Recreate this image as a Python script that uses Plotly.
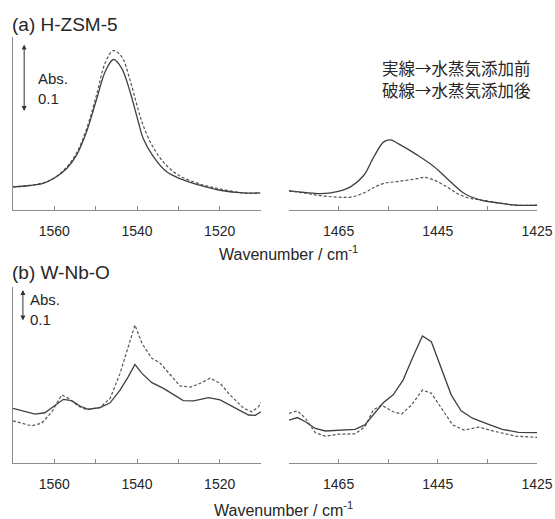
import plotly.graph_objects as go

W, H = 555, 519

# ---------------- data (absorbance, arbitrary offset) ----------------
# (a) H-ZSM-5, left window
a_left_wn = [1570, 1565.9, 1562.7, 1560, 1557, 1554.6, 1552.2, 1549.7, 1547.7, 1545.7,
             1543.7, 1541.7, 1539.7, 1538.5, 1536, 1532.8, 1529.6, 1524.7, 1519.9, 1514.2, 1510.2]
a_left_before = [0.034, 0.036, 0.039, 0.047, 0.061, 0.081, 0.115, 0.164, 0.203, 0.221,
                 0.208, 0.174, 0.130, 0.105, 0.078, 0.056, 0.046, 0.036, 0.029, 0.025, 0.025]
a_left_after = [0.034, 0.036, 0.040, 0.047, 0.063, 0.084, 0.119, 0.171, 0.216, 0.234,
                0.225, 0.191, 0.147, 0.124, 0.091, 0.065, 0.050, 0.038, 0.031, 0.025, 0.025]

# (a) H-ZSM-5, right window
a_right_wn_before = [1475, 1472, 1468.6, 1465.3, 1462.6, 1459.9, 1457.9, 1455.9, 1454.5, 1452.9,
                     1449.2, 1445.8, 1442.5, 1439.8, 1436.5, 1432.4, 1429.1, 1425]
a_right_before = [0.028, 0.026, 0.024, 0.027, 0.034, 0.051, 0.078, 0.100, 0.103, 0.097,
                  0.081, 0.064, 0.042, 0.025, 0.015, 0.010, 0.007, 0.007]
a_right_wn_after = [1475, 1472, 1468.6, 1465.3, 1462.6, 1459.9, 1457.9, 1455.9, 1452.9, 1449.2,
                    1447.8, 1445.8, 1443.2, 1440.5, 1437.8, 1436.5, 1432.4, 1429.1, 1425]
a_right_after = [0.028, 0.025, 0.021, 0.019, 0.019, 0.025, 0.033, 0.039, 0.042, 0.046,
                 0.048, 0.044, 0.034, 0.022, 0.016, 0.015, 0.010, 0.007, 0.007]

# (b) W-Nb-O, left window
b_left_wn_before = [1570, 1567.5, 1564.7, 1562.3, 1560.2, 1557.8, 1555.8, 1553.8, 1551.8, 1548.9,
                    1546.5, 1544.1, 1542.1, 1540.5, 1538.8, 1536.4, 1533.6, 1531.2, 1528.8, 1526.3,
                    1522.7, 1519.9, 1516.7, 1513, 1511.4, 1510]
b_left_before = [0.171, 0.163, 0.153, 0.157, 0.176, 0.199, 0.195, 0.178, 0.168, 0.173,
                 0.188, 0.228, 0.270, 0.308, 0.280, 0.251, 0.233, 0.213, 0.195, 0.194,
                 0.204, 0.197, 0.176, 0.150, 0.149, 0.160]
b_left_wn_after = [1570, 1567.5, 1565.5, 1563.1, 1560.6, 1558.2, 1556.6, 1554.2, 1552.2, 1548.9,
                   1546.5, 1544.1, 1542.1, 1540.5, 1538.8, 1536.4, 1534.4, 1532, 1529.6, 1527.1,
                   1524.7, 1522.3, 1519.9, 1517.5, 1514.2, 1512.2, 1510.6, 1510]
b_left_after = [0.132, 0.122, 0.116, 0.124, 0.160, 0.213, 0.202, 0.178, 0.166, 0.174,
                0.202, 0.280, 0.363, 0.431, 0.374, 0.327, 0.312, 0.275, 0.241, 0.237,
                0.249, 0.265, 0.249, 0.213, 0.171, 0.160, 0.176, 0.190]

# (b) W-Nb-O, right window
b_right_wn_before = [1475, 1473.3, 1471.7, 1469.7, 1467.7, 1465, 1461.7, 1459.7, 1458, 1456,
                     1454, 1452, 1450, 1448.1, 1446.3, 1444.3, 1442.3, 1440.3, 1438, 1435.3,
                     1432, 1428.7, 1425]
b_right_before = [0.134, 0.142, 0.129, 0.108, 0.100, 0.103, 0.105, 0.119, 0.150, 0.188,
                  0.213, 0.259, 0.332, 0.397, 0.379, 0.296, 0.213, 0.163, 0.140, 0.124,
                  0.105, 0.096, 0.095]
b_right_wn_after = [1475, 1473.3, 1471.7, 1469.7, 1467.7, 1465, 1461.7, 1459.7, 1458, 1456.3,
                    1454, 1452.3, 1450.3, 1448.1, 1446.3, 1444.3, 1442, 1439.7, 1436.7, 1433.3,
                    1429.3, 1425]
b_right_after = [0.155, 0.163, 0.140, 0.095, 0.084, 0.090, 0.091, 0.113, 0.166, 0.181,
                 0.160, 0.153, 0.181, 0.228, 0.218, 0.171, 0.119, 0.103, 0.112, 0.098,
                 0.084, 0.080]

left_ticks = [1570, 1560, 1550, 1540, 1530, 1520, 1510]
left_labels = ["", "1560", "", "1540", "", "1520", ""]
right_ticks = [1475, 1465, 1455, 1445, 1435, 1425]
right_labels = ["", "1465", "", "1445", "", "1425"]

panel_titles = ["(a) H-ZSM-5", "(b) W-Nb-O"]
axis_title = "Wavenumber / cm<sup>-1</sup>"
legend_lines = ["実線→水蒸気添加前", "破線→水蒸気添加後"]
scale_text = "Abs.<br>0.1"
scale_value = 0.1

# ---------------- styling ----------------
FONT = "Liberation Sans, Arial, Noto Sans CJK JP, sans-serif"
TXT = "#262626"
AX = "#8c8c8c"
SOLID = dict(color="#404040", width=1.3)
DASH = dict(color="#555555", width=1.2, dash="3px,2px")


def px_x(p):
    return p / W


def px_y(p):
    return 1 - p / H


fig = go.Figure()

series = [
    ("x", "y", a_left_wn, a_left_before, a_left_wn, a_left_after, "spline"),
    ("x2", "y2", a_right_wn_before, a_right_before, a_right_wn_after, a_right_after, "spline"),
    ("x3", "y3", b_left_wn_before, b_left_before, b_left_wn_after, b_left_after, "linear"),
    ("x4", "y4", b_right_wn_before, b_right_before, b_right_wn_after, b_right_after, "linear"),
]
for xa, ya, xb, yb, xd, yd, shape in series:
    fig.add_trace(go.Scatter(x=xd, y=yd, mode="lines", line=dict(**DASH, shape=shape),
                             xaxis=xa, yaxis=ya, showlegend=False, hoverinfo="skip"))
    fig.add_trace(go.Scatter(x=xb, y=yb, mode="lines", line=dict(**SOLID, shape=shape),
                             xaxis=xa, yaxis=ya, showlegend=False, hoverinfo="skip"))

dom_left = [px_x(13), px_x(261)]
dom_right = [px_x(289), px_x(537)]
dom_a = [px_y(210), px_y(37)]
dom_b = [px_y(463), px_y(287)]

xbase = dict(showline=True, linecolor=AX, linewidth=1, ticks="inside", ticklen=4,
             tickcolor=AX, showgrid=False, zeroline=False, automargin=False,
             tickfont=dict(family=FONT, size=14, color=TXT), ticklabelstandoff=8)
ybase = dict(showline=True, linecolor=AX, showticklabels=False, ticks="", showgrid=False,
             zeroline=False, automargin=False)

fig.update_layout(
    width=W, height=H, margin=dict(l=0, r=0, t=0, b=0, autoexpand=False),
    paper_bgcolor="white", plot_bgcolor="white",
    font=dict(family=FONT, color=TXT),
    xaxis=dict(xbase, domain=dom_left, range=[1570, 1510], anchor="y",
               tickvals=left_ticks, ticktext=left_labels),
    xaxis2=dict(xbase, domain=dom_right, range=[1475, 1425], anchor="y2",
                tickvals=right_ticks, ticktext=right_labels),
    xaxis3=dict(xbase, domain=dom_left, range=[1570, 1510], anchor="y3",
                tickvals=left_ticks, ticktext=left_labels),
    xaxis4=dict(xbase, domain=dom_right, range=[1475, 1425], anchor="y4",
                tickvals=right_ticks, ticktext=right_labels),
    yaxis=dict(ybase, domain=dom_a, range=[0, 0.254], anchor="x"),
    yaxis2=dict(domain=dom_a, range=[0, 0.254], anchor="x2", visible=False, automargin=False),
    yaxis3=dict(ybase, domain=dom_b, range=[0, 0.55], anchor="x3"),
    yaxis4=dict(domain=dom_b, range=[0, 0.55], anchor="x4", visible=False, automargin=False),
)

ann = []
# panel titles
for title, ypx in zip(panel_titles, [25, 272]):
    ann.append(dict(text=title, xref="paper", yref="paper", x=px_x(10), y=px_y(ypx),
                    xanchor="left", yanchor="middle", showarrow=False,
                    font=dict(family=FONT, size=19, color=TXT)))
# axis titles
for xpx, ypx in [(288, 253), (283, 509)]:
    ann.append(dict(text=axis_title, xref="paper", yref="paper", x=px_x(xpx), y=px_y(ypx),
                    xanchor="center", yanchor="middle", showarrow=False,
                    font=dict(family=FONT, size=16, color=TXT)))
# legend text (two lines)
for line, ypx in zip(legend_lines, [68, 90]):
    ann.append(dict(text=line, xref="paper", yref="paper", x=px_x(380), y=px_y(ypx),
                    xanchor="left", yanchor="middle", showarrow=False,
                    font=dict(family="Noto Sans CJK JP, sans-serif", size=16.5, color=TXT)))
# scale arrows (0.1 absorbance) drawn in data coordinates
for xa, ya, wn, ybot, txt_wn, txt_y in [("x", "y", 1567.3, 0.143, 1564.5, 0.178),
                                       ("x3", "y3", 1567.6, 0.441, 1566.4, 0.480)]:
    ann.append(dict(x=wn, y=ybot + scale_value, ax=wn, ay=ybot, xref=xa, yref=ya,
                    axref=xa, ayref=ya, text="", showarrow=True, arrowhead=2,
                    arrowside="end+start", arrowsize=1, arrowwidth=1, arrowcolor="#333333"))
    ann.append(dict(x=txt_wn, y=txt_y, xref=xa, yref=ya, text=scale_text, showarrow=False,
                    xanchor="left", yanchor="middle", align="left",
                    font=dict(family=FONT, size=15, color=TXT)))
fig.update_layout(annotations=ann)

fig.write_html("out.html")
